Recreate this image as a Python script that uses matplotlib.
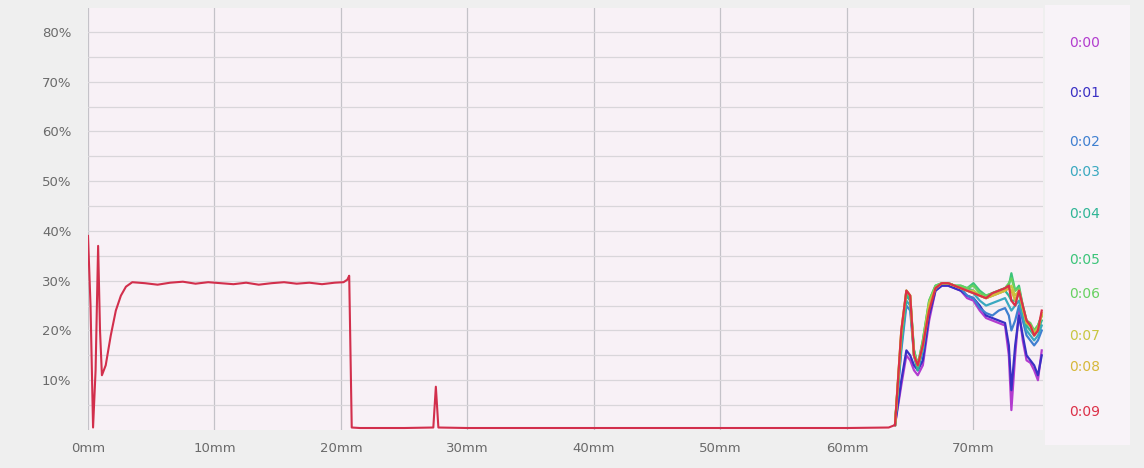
import matplotlib
matplotlib.use("Agg")
import matplotlib.pyplot as plt
from matplotlib.patches import Rectangle

# shared head of every trace (mm, %)
head_x = [0.0, 0.2, 0.4, 0.6, 0.8, 0.95, 1.1, 1.4, 1.8, 2.2, 2.6, 3.0, 3.5, 4.5, 5.5,
          6.5, 7.5, 8.5, 9.5, 10.5, 11.5, 12.5, 13.5, 14.5, 15.5, 16.5, 17.5, 18.5,
          19.5, 20.2, 20.5, 20.65, 20.85, 21.5, 25.0, 27.3, 27.5, 27.7, 30.0, 40.0,
          50.0, 60.0, 63.3]
head_y = [39.0, 25.0, 0.5, 12.0, 37.0, 20.0, 11.0, 13.0, 19.0, 24.0, 27.0, 28.8, 29.7,
          29.5, 29.2, 29.6, 29.8, 29.4, 29.7, 29.5, 29.3, 29.6, 29.2, 29.5, 29.7, 29.4,
          29.6, 29.3, 29.6, 29.7, 30.2, 31.0, 0.5, 0.4, 0.4, 0.5, 8.7, 0.5, 0.4, 0.4,
          0.4, 0.4, 0.5]

tail_x = [63.8, 64.3, 64.7, 65.0, 65.3, 65.6, 66.0, 66.5, 67.0, 67.5, 68.0, 68.5, 69.0,
          69.5, 70.0, 70.5, 71.0, 71.5, 72.0, 72.5, 72.8, 73.0, 73.3, 73.6, 73.9, 74.2,
          74.5, 74.8, 75.1, 75.4]

tails = {
    "0:00": [1.0, 9, 15, 14, 12, 11, 13, 22, 28, 29, 29, 28.5, 28, 26.5, 26, 24, 22.5,
             22, 21.5, 21, 15, 4, 15, 24, 18, 14, 13.5, 12, 10, 16],
    "0:01": [1.0, 10, 16, 15, 13, 12, 14, 23, 28, 29, 29, 28.5, 28, 27, 26.5, 25, 23,
             22.5, 22, 21.5, 17, 8, 17, 23, 19, 15, 14, 13, 11, 15],
    "0:02": [1.0, 16, 25, 24, 15, 12, 16, 25, 28.5, 29.5, 29.5, 29, 28.5, 27, 26.5,
             24.5, 23.5, 23, 24, 24.5, 23, 20, 22, 25, 22, 19, 18, 17, 18, 20],
    "0:03": [1.0, 17, 26, 25, 16, 13, 16, 25, 28.5, 29.5, 29.5, 29, 28.5, 28, 27.5,
             26, 25, 25.5, 26, 26.5, 25, 24, 25, 26, 23, 20, 19, 18, 19, 21],
    "0:04": [1.0, 18, 27, 26, 15, 12, 17, 25, 28.5, 29.5, 29.5, 29, 28.5, 28.5, 28,
             27, 26.5, 27, 27.5, 28, 27, 26, 26, 27.5, 24, 21, 20, 19, 20, 22],
    "0:05": [1.0, 19, 27.5, 26.5, 16, 13, 18, 26, 29, 29.5, 29.5, 29, 29, 28.5, 29.5,
             28, 27, 27.5, 28, 28.5, 29, 31.5, 28, 29, 25, 22, 21, 20, 21, 23],
    "0:06": [1.0, 19, 28, 27, 16, 13, 18, 26, 29, 29.5, 29.5, 29, 29, 28.5, 29,
             27.5, 27, 27.5, 28, 28.5, 29.5, 30.5, 28, 28.5, 25, 22, 21.5, 20, 21, 23],
    "0:07": [1.0, 20, 28, 27, 15, 13, 17, 25.5, 28.5, 29.5, 29.5, 29, 28.5, 28, 28,
             27, 26.5, 27, 27.5, 28, 28.5, 29, 27, 28, 24.5, 21.5, 21, 19.5, 20.5, 23],
    "0:08": [1.0, 20, 28, 27, 15, 13, 17, 25, 28.5, 29.5, 29.5, 29, 28.5, 28, 27.5,
             27, 26.5, 27, 27.5, 28, 28.5, 28, 26, 28, 24.5, 21.5, 21, 19, 20, 23.5],
    "0:09": [1.0, 20, 28, 27, 15, 13, 17, 24, 28.5, 29.5, 29.5, 29, 28.5, 28, 27.5,
             27, 26.5, 27.5, 28, 28.5, 29, 26, 25, 28, 25, 22, 21, 19, 20, 24],
}

colors = {
    "0:00": "#b23ccf", "0:01": "#3a2fc4", "0:02": "#3f7fd0", "0:03": "#3aa8c0",
    "0:04": "#2fb596", "0:05": "#3cc47a", "0:06": "#66d160", "0:07": "#c8c640",
    "0:08": "#d6b83a", "0:09": "#dc3048",
}
label_y = [43, 93, 142, 172, 214, 260, 294, 336, 367, 412]  # pixel rows of legend labels

W, H = 1144, 468
fig = plt.figure(figsize=(W / 100, H / 100), dpi=100, facecolor="#efefef")
ax = fig.add_axes([88 / W, 1 - 430 / H, (1043 - 88) / W, (430 - 8) / H])
ax.set_facecolor("#f8f1f6")

# earlier passes sit under the last one; the left part shows only the last trace
for name, tail in tails.items():
    ax.plot(tail_x, tail, color=colors[name], lw=1.6)
ax.plot(head_x + tail_x[:1], head_y + tails["0:09"][:1], color="#d22f4c", lw=1.5)

ax.set_xlim(0, 75.5)
ax.set_ylim(0, 84.8)
ax.set_xticks(range(0, 80, 10))
ax.set_xticklabels([f"{v}mm" for v in range(0, 80, 10)])
ax.set_yticks(range(10, 90, 10))
ax.set_yticklabels([f"{v}%" for v in range(10, 90, 10)])
ax.set_yticks(range(5, 85, 10), minor=True)
ax.grid(axis="y", which="both", color="#d9d6da", lw=0.9)
ax.grid(axis="x", which="major", color="#c4c2c8", lw=0.9)
ax.tick_params(which="both", length=0, labelsize=9.5, labelcolor="#6a6a6a")
ax.tick_params(axis="x", pad=9)
ax.tick_params(axis="y", pad=12)
for s in ax.spines.values():
    s.set_visible(False)
ax.set_axisbelow(True)

# legend panel
fig.patches.append(Rectangle((1045 / W, 1 - 445 / H), 85 / W, 440 / H,
                             transform=fig.transFigure, facecolor="#f8f3f8",
                             edgecolor="none", zorder=0))
for (name, col), yy in zip(colors.items(), label_y):
    fig.text(1085 / W, 1 - yy / H, name, color=col, fontsize=10,
             ha="center", va="center")

fig.savefig("out.png", dpi=100, facecolor=fig.get_facecolor())
